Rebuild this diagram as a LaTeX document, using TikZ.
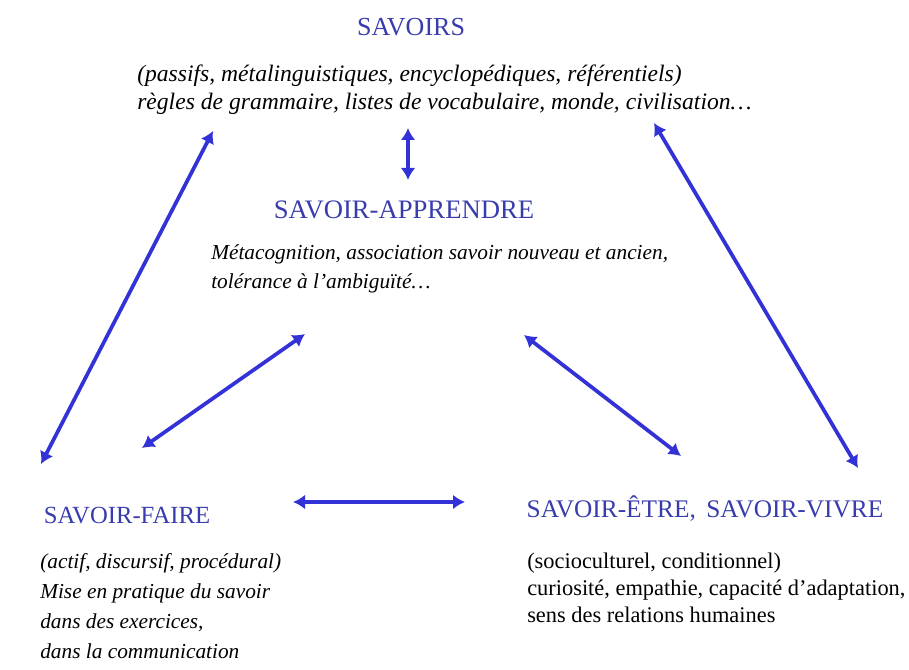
\documentclass[tikz,border=0pt]{standalone}
\usepackage{fontspec}
\setmainfont{Liberation Serif}
\usetikzlibrary{arrows.meta}
\usetikzlibrary{positioning}
\tikzset{>={Latex[length=9pt,width=11pt]}}
\definecolor{titleblue}{RGB}{56,60,172}
\definecolor{arrowblue}{RGB}{50,50,215}

\begin{document}
\begin{tikzpicture}[x=0.75pt,y=-0.75pt,
  title/.style={inner sep=0pt, anchor=base, text=titleblue},
  body/.style={inner sep=0pt, anchor=base west, align=left},
  link/.style={<->, draw=arrowblue, line width=2.8pt}]
		\useasboundingbox (0,0) rectangle (909,670);
		% titles
		\node[title, font=\rmfamily\fontsize{19.5}{22}\selectfont] (sav) at (411,36) {SAVOIRS};
		\node[title, font=\rmfamily\fontsize{20}{22}\selectfont] (app) at (404,219) {SAVOIR-APPRENDRE};
		\node[title, font=\rmfamily\fontsize{18.5}{22}\selectfont] (fai) at (127,523) {SAVOIR-FAIRE};
		\node[title, font=\rmfamily\fontsize{19}{22}\selectfont] (etr) at (705,517) {SAVOIR-ÊTRE,\, SAVOIR-VIVRE};
		% texts (anchored at the last line's baseline)
		\node[body, font=\rmfamily\fontsize{17.7}{21}\selectfont\itshape] (savtxt) at (137,110) {(passifs, métalinguistiques, encyclopédiques, référentiels)\\règles de grammaire, listes de vocabulaire, monde, civilisation…};
		\node[body, font=\rmfamily\fontsize{16}{21.75}\selectfont\itshape] (apptxt) at (211,288) {Métacognition, association savoir nouveau et ancien,\\tolérance à l’ambiguïté…};
		\node[body, font=\rmfamily\fontsize{16}{22.5}\selectfont\itshape] (faitxt) at (40,658) {(actif, discursif, procédural)\\Mise en pratique du savoir\\dans des exercices,\\dans la communication};
		\node[body, font=\rmfamily\fontsize{16.8}{20}\selectfont] (etrtxt) at (527,622) {(socioculturel, conditionnel)\\curiosité, empathie, capacité d’adaptation,\\sens des relations humaines};
		% arrow ends
		\coordinate (a1) at (408,128);
		\coordinate (a2) at (408,180);
		\coordinate (b1) at (305,334);
		\coordinate (b2) at (142,448);
		\coordinate (c1) at (524,335);
		\coordinate (c2) at (681,456);
		\coordinate (d1) at (213,131);
		\coordinate (d2) at (41,464);
		\coordinate (e1) at (654,123);
		\coordinate (e2) at (858,468);
		\coordinate (f1) at (293,502);
		\coordinate (f2) at (465,502);
		\path
			(a1) edge[link] (a2)
			(b1) edge[link] (b2)
			(c1) edge[link] (c2)
			(d1) edge[link] (d2)
			(e1) edge[link] (e2)
			(f1) edge[link] (f2);
	\end{tikzpicture}
\end{document}
